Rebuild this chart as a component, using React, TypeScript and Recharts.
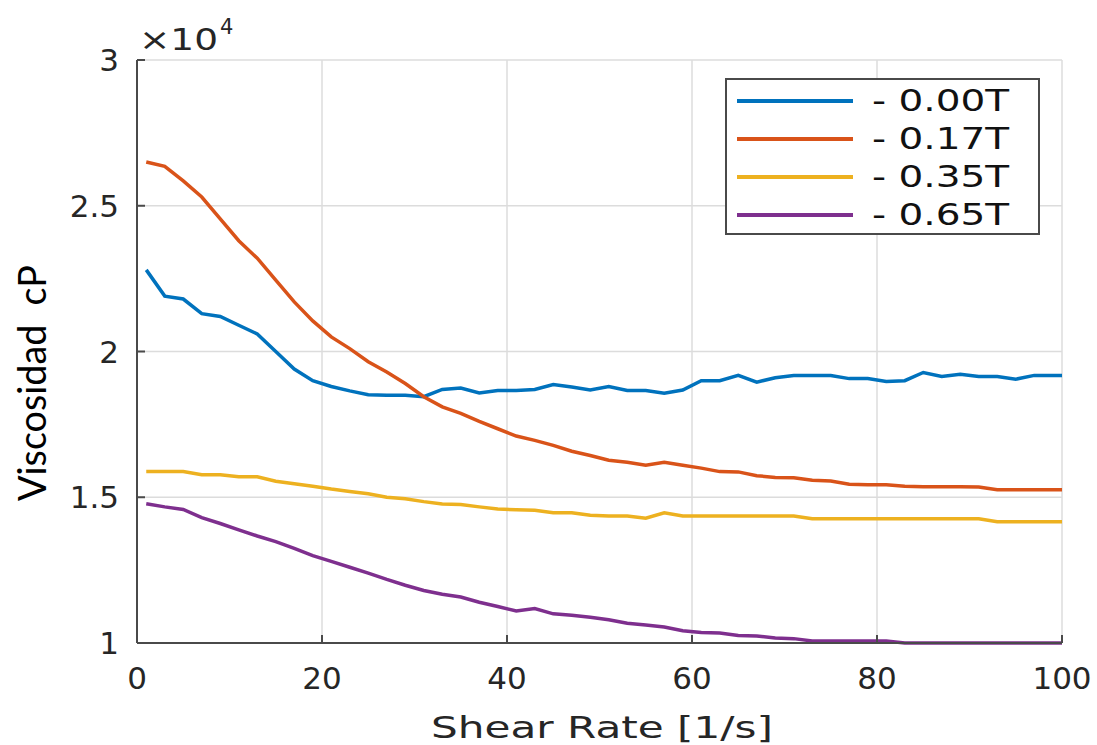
import React from "react";
import {
  LineChart,
  Line,
  XAxis,
  YAxis,
  CartesianGrid,
  Legend,
} from "recharts";

// Shear rate [1/s]
const shearRate = [
  1, 3, 5, 7, 9, 11, 13, 15, 17, 19, 21, 23, 25, 27, 29, 31, 33, 35, 37, 39,
  41, 43, 45, 47, 49, 51, 53, 55, 57, 59, 61, 63, 65, 67, 69, 71, 73, 75, 77,
  79, 81, 83, 85, 87, 89, 91, 93, 95, 97, 99, 100,
];

// Viscosity in units of 10^4 cP
const visc000 = [
  2.28, 2.19, 2.18, 2.13, 2.12, 2.09, 2.06, 2.0, 1.94, 1.9,
  1.88, 1.865, 1.852, 1.85, 1.85, 1.845, 1.87, 1.875, 1.858, 1.866,
  1.866, 1.87, 1.887, 1.878, 1.868, 1.88, 1.866, 1.866, 1.857, 1.868,
  1.9, 1.9, 1.918, 1.895, 1.91, 1.918, 1.918, 1.918, 1.907, 1.907,
  1.897, 1.9, 1.928, 1.914, 1.922, 1.914, 1.914, 1.905, 1.918, 1.918, 1.918,
];
const visc017 = [
  2.65, 2.635, 2.585, 2.53, 2.455, 2.38, 2.32, 2.245, 2.17, 2.105,
  2.05, 2.01, 1.965, 1.93, 1.89, 1.845, 1.81, 1.788, 1.76, 1.735,
  1.71, 1.695, 1.678, 1.658, 1.643, 1.627, 1.62, 1.61, 1.62, 1.61,
  1.6, 1.588, 1.587, 1.574, 1.568, 1.567, 1.558, 1.556, 1.545, 1.543,
  1.543, 1.538, 1.536, 1.536, 1.536, 1.535, 1.526, 1.526, 1.526, 1.526, 1.526,
];
const visc035 = [
  1.588, 1.588, 1.588, 1.577, 1.577, 1.57, 1.57, 1.555, 1.546, 1.538,
  1.528, 1.52, 1.512, 1.5, 1.495, 1.485, 1.477, 1.475, 1.467, 1.46,
  1.457, 1.455, 1.447, 1.447, 1.438, 1.436, 1.436, 1.428, 1.447, 1.436,
  1.436, 1.436, 1.436, 1.436, 1.436, 1.436, 1.426, 1.426, 1.426, 1.426,
  1.426, 1.426, 1.426, 1.426, 1.426, 1.426, 1.416, 1.416, 1.416, 1.416, 1.416,
];
const visc065 = [
  1.478, 1.467, 1.458, 1.43, 1.41, 1.388, 1.367, 1.348, 1.325, 1.3,
  1.28, 1.26, 1.24, 1.218, 1.198, 1.18, 1.167, 1.158, 1.14, 1.125,
  1.11, 1.118, 1.1, 1.095, 1.088, 1.08, 1.068, 1.062, 1.055, 1.042,
  1.036, 1.034, 1.026, 1.024, 1.017, 1.015, 1.007, 1.007, 1.007, 1.007,
  1.007, 1.0, 1.0, 1.0, 1.0, 1.0, 1.0, 1.0, 1.0, 1.0, 1.0,
];

const xTicks = [0, 20, 40, 60, 80, 100];
const yTicks = [1, 1.5, 2, 2.5, 3];

const series = [
  { key: "t000", name: "0.00T", color: "#0072BD" },
  { key: "t017", name: "0.17T", color: "#D95319" },
  { key: "t035", name: "0.35T", color: "#EDB120" },
  { key: "t065", name: "0.65T", color: "#7E2F8E" },
];

const chartData = shearRate.map((x, i) => ({
  x,
  t000: visc000[i],
  t017: visc017[i],
  t035: visc035[i],
  t065: visc065[i],
}));

const FONT = "'DejaVu Sans', sans-serif";
const AXIS = "#4a4a4a";
const tickStyle = { fontSize: 31, fill: "#262626", fontFamily: FONT };

// MATLAB-style boxed legend
const LegendBox = (props: any) => {
  const items = props.payload || [];
  return (
    <div
      style={{
        width: 315,
        height: 157,
        boxSizing: "border-box",
        border: `2px solid ${AXIS}`,
        background: "#fff",
        paddingTop: 2,
      }}
    >
      {items.map((it: any) => (
        <div
          key={it.value}
          style={{ height: 38, display: "flex", alignItems: "center" }}
        >
          <div
            style={{
              marginLeft: 10,
              width: 116,
              height: 4,
              background: it.color,
            }}
          />
          <span
            style={{
              marginLeft: 19,
              fontFamily: FONT,
              fontSize: 30,
              color: "#111",
              display: "inline-block",
              transform: "scaleX(1.3)",
              transformOrigin: "left center",
              whiteSpace: "pre",
              lineHeight: "38px",
            }}
          >
            {"- " + it.value}
          </span>
        </div>
      ))}
    </div>
  );
};

const YTitle = () => (
  <g>
    <text
      x={36}
      y={383}
      transform="rotate(-90 36 383)"
      textAnchor="middle"
      dominantBaseline="middle"
      fontFamily="Lato, 'Open Sans', sans-serif"
      fontSize={38}
      fill="#000"
      textLength={236}
      lengthAdjust="spacingAndGlyphs"
      style={{ whiteSpace: "pre" }}
    >
      {"Viscosidad  cP"}
    </text>
    <text
      x={139}
      y={50}
      fontFamily={FONT}
      fontSize={31}
      fill="#262626"
      textLength={79}
      lengthAdjust="spacingAndGlyphs"
    >
      ×10
    </text>
    <text x={220} y={34} fontFamily={FONT} fontSize={21} fill="#262626">
      4
    </text>
  </g>
);

const XTitle = () => (
  <text
    x={602}
    y={738}
    textAnchor="middle"
    fontFamily={FONT}
    fontSize={31}
    fill="#262626"
    textLength={342}
    lengthAdjust="spacingAndGlyphs"
  >
    Shear Rate [1/s]
  </text>
);

const App: React.FC = () => {
  return (
    <div style={{ position: "absolute", left: 0, top: 0, background: "#fff" }}>
      <LineChart
        width={1097}
        height={745}
        data={chartData}
        margin={{ top: 60, right: 35, bottom: 42, left: 0 }}
      >
        <CartesianGrid stroke="#dcdcdc" strokeWidth={1.5} />
        <XAxis
          dataKey="x"
          type="number"
          domain={[0, 100]}
          ticks={xTicks}
          height={60}
          tickSize={-8}
          tickMargin={32}
          tick={tickStyle}
          axisLine={{ stroke: AXIS, strokeWidth: 2 }}
          tickLine={{ stroke: AXIS, strokeWidth: 2 }}
          label={<XTitle />}
        />
        <XAxis
          xAxisId="top"
          dataKey="x"
          type="number"
          orientation="top"
          domain={[0, 100]}
          ticks={xTicks}
          height={0}
          tickSize={-8}
          tick={false}
          axisLine={{ stroke: AXIS, strokeWidth: 2 }}
          tickLine={{ stroke: AXIS, strokeWidth: 2 }}
        />
        <YAxis
          type="number"
          domain={[1, 3]}
          ticks={yTicks}
          width={137}
          tickSize={-8}
          tickMargin={26}
          tick={tickStyle}
          tickFormatter={(v: number) => String(v)}
          axisLine={{ stroke: AXIS, strokeWidth: 2 }}
          tickLine={{ stroke: AXIS, strokeWidth: 2 }}
          label={<YTitle />}
        />
        <YAxis
          yAxisId="right"
          type="number"
          orientation="right"
          domain={[1, 3]}
          ticks={yTicks}
          width={0}
          tickSize={-8}
          tick={false}
          axisLine={{ stroke: AXIS, strokeWidth: 2 }}
          tickLine={{ stroke: AXIS, strokeWidth: 2 }}
        />
        <Legend
          layout="horizontal"
          verticalAlign="middle"
          align="center"
          content={<LegendBox />}
          wrapperStyle={{ left: 725, top: 78, width: 315, height: 157 }}
        />
        {series.map((s) => (
          <Line
            key={s.key}
            type="linear"
            dataKey={s.key}
            name={s.name}
            stroke={s.color}
            strokeWidth={3.5}
            dot={false}
            isAnimationActive={false}
          />
        ))}
      </LineChart>
    </div>
  );
};

export default App;
